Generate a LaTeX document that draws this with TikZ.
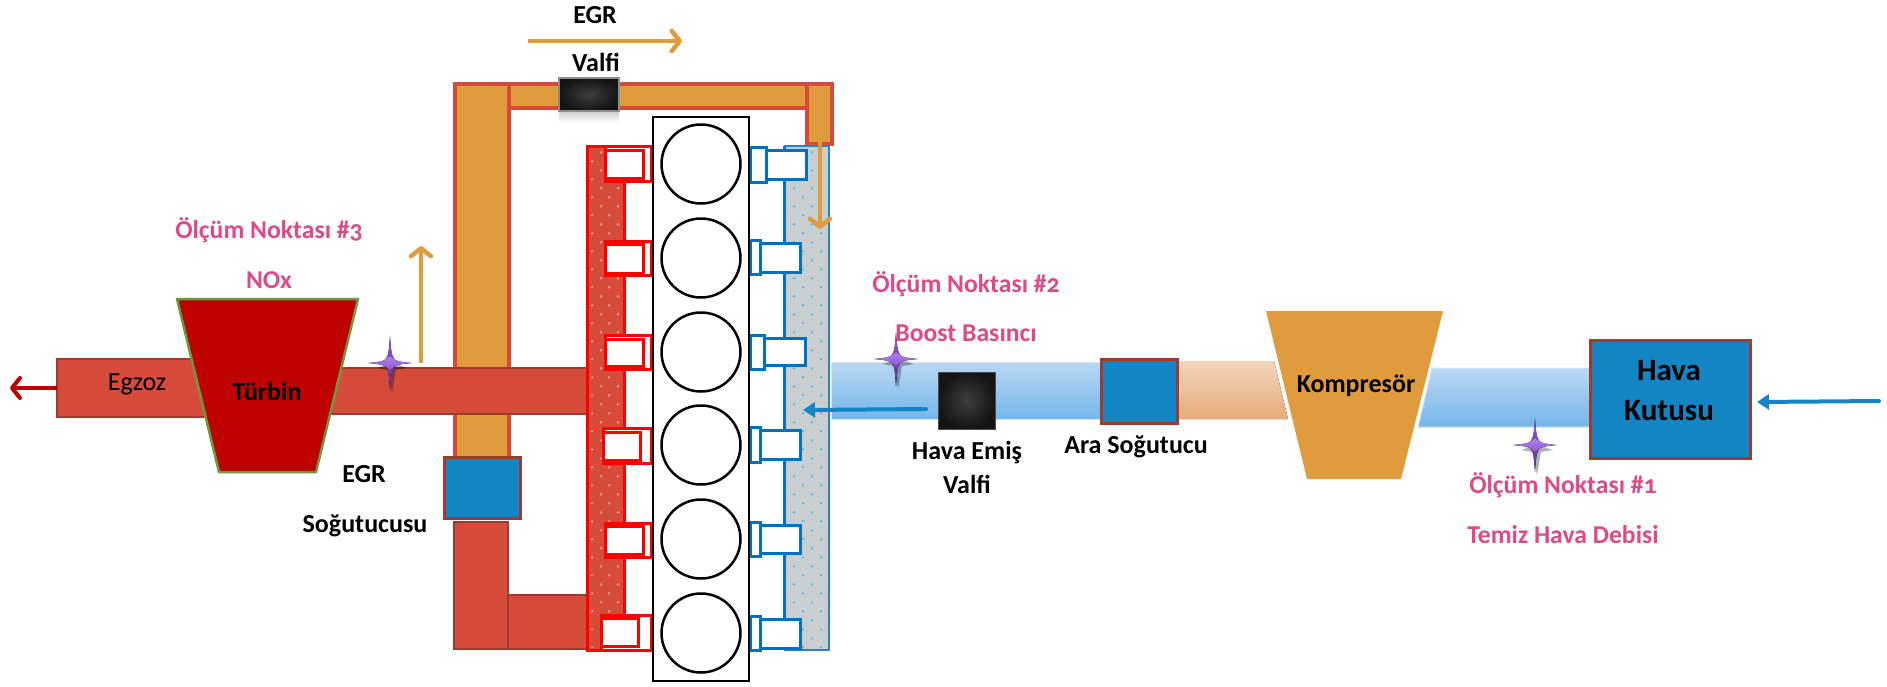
\documentclass[tikz,border=0pt]{standalone}
\usepackage{fontspec}
\setmainfont[Numbers=OldStyle]{Carlito}
\usetikzlibrary{arrows.meta}
\definecolor{pipered}{HTML}{D64B3A}
\definecolor{pipeedge}{HTML}{9E3A2E}
\definecolor{egrorange}{HTML}{E09C3C}
\definecolor{egredge}{HTML}{D9483B}
\definecolor{turbred}{HTML}{BE0000}
\definecolor{turbedge}{HTML}{6B9A3E}
\definecolor{coolblue}{HTML}{1485C4}
\definecolor{runblue}{HTML}{0070C0}
\definecolor{intakegray}{HTML}{C9CFD0}
\definecolor{dotblue}{HTML}{4DBEE0}
\definecolor{dotred}{HTML}{EFA9A0}
\definecolor{pinktext}{HTML}{DC4A8A}
\definecolor{airtop}{HTML}{BAD8F3}
\definecolor{airbot}{HTML}{74B6EA}
\definecolor{peachtop}{HTML}{F3D5BC}
\definecolor{peachbot}{HTML}{E6AC78}
\definecolor{starlight}{HTML}{B080EC}
\definecolor{starmid}{HTML}{9058D8}
\definecolor{stardark}{HTML}{5E3499}
\tikzset{
  pipe/.style={fill=pipered,draw=pipeedge,line width=2.5pt},
  egrpipe/.style={fill=egrorange,draw=egredge,line width=3.5pt},
  cooler/.style={fill=coolblue,draw=pipeedge,line width=3pt},
  airpipe/.style={top color=airtop,bottom color=airbot,draw=airtop!70!white,line width=1pt},
  peachpipe/.style={top color=peachtop,bottom color=peachbot,draw=none},
  redrun/.style={fill=white,draw=red,line width=3pt},
  bluerun/.style={fill=white,draw=runblue,line width=3pt},
  valve/.style={inner color=black!76,outer color=black!92},
  lab/.style={font=\bfseries\fontsize{26}{30}\selectfont,text=black,inner sep=0pt,anchor=center},
  pinklab/.style={font=\bfseries\fontsize{25.7}{30}\selectfont,text=pinktext,inner sep=0pt,anchor=center},
  orangearrow/.style={draw=egrorange,line width=4.5pt,-{Straight Barb[length=8pt,width=20pt,round]}},
  bluearrow/.style={draw=coolblue,line width=4pt,line cap=round,-{Triangle[length=12pt,width=15pt]}},
  redarrow/.style={draw=turbred,line width=4pt,-{Straight Barb[length=8pt,width=20pt,round]}},
  spark/.pic={
    \fill[black,opacity=.3] (2,-8) -- (6,1) -- (18,5) -- (6,7) -- (2,30) -- (-2,7) -- (-14,5) -- (-2,1) -- cycle;
    \fill[top color=starmid,bottom color=stardark] (0,-27) .. controls (1.5,-7) .. (7,0) .. controls (1.5,7) .. (0,27) .. controls (-1.5,7) .. (-7,0) .. controls (-1.5,-7) .. (0,-27);
    \fill[top color=starlight,bottom color=starmid] (-22,0) .. controls (-7,-1.5) .. (0,-7) .. controls (7,-1.5) .. (22,0) .. controls (7,1.5) .. (0,7) .. controls (-7,1.5) .. (-22,0);
  }
}
\begin{document}
\begin{tikzpicture}[x=1pt,y=-1pt]
\useasboundingbox (0,0) rectangle (1887,686);

% EGR orange pipes
\draw[egrpipe] (455,84) rectangle (509,380);
\draw[egrpipe] (509,84) rectangle (807,108);
\draw[egrpipe] (807,84) rectangle (832,144);
\draw[egrpipe] (455,410) rectangle (509,458);

% EGR valve
\fill[top color=black!18,bottom color=white] (559,112) rectangle (619,123);
\draw[valve,draw=black!45,line width=1.5pt] (559,78) rectangle (619,111);

% exhaust pipes
\draw[pipe] (285,368) rectangle (587,414);
\draw[pipe] (57,359) rectangle (210,417);

% turbine
\coordinate (turbtl) at (177,299);
\coordinate (turbtr) at (358,299);
\coordinate (turbbr) at (316,472);
\coordinate (turbbl) at (219,472);
\draw[fill=turbred,draw=turbedge,line width=2.5pt,line join=round] (turbtl) -- (turbtr) -- (turbbr) -- (turbbl) -- cycle;

% low part of EGR loop
\draw[pipe] (508,595) rectangle (587,649);
\draw[pipe] (454,522) rectangle (508,649);
\draw[cooler] (444,457) rectangle (520,518);

% air paths
\draw[airpipe] (831,362) rectangle (1101,419);
\fill[peachpipe] (1177,361) -- (1274,361) -- (1288,419) -- (1177,419) -- cycle;
\draw[airpipe] (1432,368) -- (1590,368) -- (1590,427) -- (1418,427) -- cycle;

% manifolds
\fill[pipered] (587,146) rectangle (624,650);
\begin{scope}
  \clip (589,148) rectangle (623,649);
  \foreach \r in {0,...,55} {
    \pgfmathtruncatemacro{\odd}{mod(\r,2)}
    \pgfmathsetmacro{\yy}{152.3+9*\r}
    \ifnum\odd=0
      \fill[dotred] (601,\yy) circle (1.3) (618,\yy) circle (1.3);
    \else
      \fill[dotred] (592,\yy) circle (1.3) (609,\yy) circle (1.3);
    \fi
  }
\end{scope}
\draw[red,line width=3pt] (624,146) -- (587,146) -- (587,650) -- (624,650);
\draw[red,line width=3pt] (624,146) -- (624,650);
\fill[intakegray] (784,146) rectangle (829,650);
\begin{scope}
  \clip (785,148) rectangle (828,649);
  \foreach \r in {0,...,55} {
    \pgfmathtruncatemacro{\odd}{mod(\r,2)}
    \pgfmathsetmacro{\yy}{152.3+9*\r}
    \ifnum\odd=0
      \fill[dotblue] (794,\yy) circle (1.3) (812,\yy) circle (1.3);
    \else
      \fill[dotblue] (785,\yy) circle (1.3) (803,\yy) circle (1.3) (821,\yy) circle (1.3);
    \fi
  }
\end{scope}
\draw[runblue,line width=3pt] (784,146) -- (784,650);
\draw[runblue!85!white,line width=2.5pt] (784,146) -- (829,146) -- (829,650) -- (784,650);

% exhaust runners
\foreach \ya/\yb/\ia/\ib/\xa/\xb in {
  146/181/150/178/605/643,
  241/275/244/273/605/643,
  335/369/339/366/605/643,
  428/463/432/460/603/640,
  523/557/526/554/605/643,
  615/650/618/646/601/638} {
  \draw[redrun] (\xa,\ya) rectangle (651,\yb);
  \draw[redrun] (\xa,\ia) rectangle (\xb,\ib);
}
% intake runners
\foreach \ya/\yb/\ia/\ib/\xa/\xb in {
  147/182/150/179/766/806,
  240/274/243/272/760/800,
  335/369/338/365/764/805,
  427/462/430/459/760/800,
  522/556/525/553/760/800,
  616/650/619/648/760/800} {
  \draw[bluerun] (750,\ya) rectangle (\xa,\yb);
  \draw[bluerun] (\xa,\ia) rectangle (\xb,\ib);
}

% engine
\draw[black,fill=white,line width=2.5pt] (653,117) rectangle (749,681);
\foreach \n/\cy in {1/164,2/258,3/352,4/445,5/539,6/633}
  \node[circle,draw=black,fill=white,line width=2.5pt,minimum size=79pt,inner sep=0pt] (cyl\n) at (701,\cy) {};

% intake side hardware
\draw[valve,draw=black!70,line width=1pt] (938,372) rectangle (995,429);
\draw[cooler] (1101,359) rectangle (1177,423);
\fill[egrorange] (1266,311) -- (1443,311) -- (1401,479) -- (1307,479) -- cycle;
\draw[cooler] (1590,340) rectangle (1750,458);

% arrows
\coordinate (egrstart) at (528,41);
\coordinate (egrend) at (682,41);
\draw[orangearrow] (egrstart) -- (egrend);
\coordinate (dropstart) at (820,142);
\coordinate (dropend) at (820,229);
\draw[orangearrow] (dropstart) -- (dropend);
\coordinate (upstart) at (421,363);
\coordinate (upend) at (421,246);
\draw[orangearrow] (upstart) -- (upend);
\coordinate (exstart) at (57,388);
\coordinate (exend) at (10,388);
\draw[redarrow] (exstart) -- (exend);
\coordinate (airstart) at (926,409);
\coordinate (airend) at (803,410);
\draw[bluearrow] (airstart) -- (airend);
\coordinate (instart) at (1879,401);
\coordinate (inend) at (1757,402);
\draw[bluearrow] (instart) -- (inend);

% measuring points
\pic at (390,363) {spark};
\pic at (896,359) {spark};
\pic at (1535,445) {spark};

% labels
\node[lab] (egrtop) at (595,15) {EGR};
\node[lab] (valfitop) at (596,62) {Valfi};
\node[pinklab] (mp3) at (269,230) {Ölçüm Noktası \#3};
\node[pinklab] (nox) at (269,280) {NOx};
\node[lab,font=\fontsize{26}{30}\selectfont] (egzoz) at (137,384) {Egzoz};
\node[lab] (turbin) at (267,391) {Türbin};
\node[lab] (egrlow) at (364,474) {EGR};
\node[lab] (sogutucusu) at (365,526) {Soğutucusu};
\node[pinklab] (mp2) at (966,284) {Ölçüm Noktası \#2};
\node[pinklab] (boost) at (966,333) {Boost Basıncı};
\node[lab] (havaemis) at (967,453) {Hava Emiş};
\node[lab] (valfilow) at (967,484) {Valfi};
\node[lab] (ara) at (1136,447) {Ara Soğutucu};
\node[lab] (kompresor) at (1356,386) {Kompresör};
\node[lab,font=\bfseries\fontsize{31}{36}\selectfont] (hava) at (1669,371) {Hava};
\node[lab,font=\bfseries\fontsize{31}{36}\selectfont] (kutusu) at (1669,411) {Kutusu};
\node[pinklab] (mp1) at (1563,485) {Ölçüm Noktası \#1};
\node[pinklab] (temiz) at (1563,535) {Temiz Hava Debisi};
\end{tikzpicture}
\end{document}
